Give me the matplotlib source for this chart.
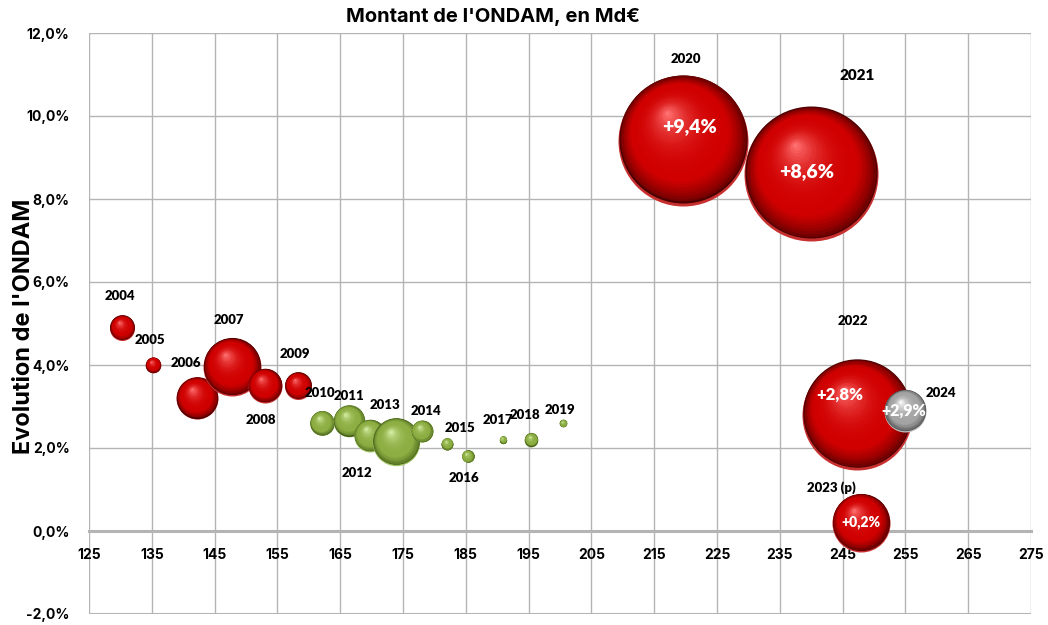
import numpy as np
import matplotlib
matplotlib.use('Agg')
import matplotlib.pyplot as plt
from matplotlib.transforms import offset_copy
from matplotlib.ticker import FuncFormatter, MultipleLocator

plt.rcParams['font.family'] = ['Lato', 'DejaVu Sans']
police_axes = ['Inter', 'DejaVu Sans']

# Données
annees = ['2004', '2005', '2006', '2007', '2008', '2009', '2010', '2011', '2012', '2013',
          '2014', '2015', '2016', '2017', '2018', '2019', '2020', '2021', '2022',
          '2023 (p)', '2024']
montant = [130.3, 135.2, 142.2, 147.8, 153.0, 158.3, 162.1, 166.4, 169.7, 173.9,
           178.0, 182.0, 185.3, 190.9, 195.4, 200.5, 219.6, 240.0, 247.3, 247.9, 255.0]
evolution = [4.9, 4.0, 3.2, 3.95, 3.5, 3.5, 2.6, 2.65, 2.3, 2.15,
             2.4, 2.1, 1.8, 2.2, 2.2, 2.6, 9.4, 8.6, 2.8, 0.2, 2.9]
taille = [12.5, 7.8, 21, 29, 17, 13.5, 12.3, 15.8, 16, 23.7,
          11, 6, 6.3, 3.7, 6.8, 3.8, 65, 67, 55, 29, 21]
groupe = ['r'] * 6 + ['v'] * 10 + ['r'] * 4 + ['g']
etiquettes_val = {'2020': '+9,4%', '2021': '+8,6%', '2022': '+2,8%',
                  '2023 (p)': '+0,2%', '2024': '+2,9%'}
x_ticks = list(range(125, 276, 10))

# placement des étiquettes (pixels par rapport au centre)
pos_annee = [(-2, 32), (-3, 25), (-11, 35), (-3, 47), (-4, -34), (-3, 32), (-2, 30),
             (0, 25), (-13, -37), (-11, 37), (4, 20), (13, 16), (-4, -22), (-5, 20),
             (-6, 25), (-3, 13), (3, 82), (46, 99), (-4, 94), (-29, 35), (35, 18)]
pos_val = {'2020': ((6, 14), 14), '2021': ((-5, 3), 14), '2022': ((-17, 20), 12),
           '2023 (p)': ((0, 1), 10), '2024': ((-2, 0), 11.5)}

palettes = {
    'r': ('#4a0000', '#d00000', '#ff7070', '#c83030'),
    'v': ('#445f18', '#8cae42', '#d8f0a8', '#a4c464'),
    'g': ('#484848', '#a4a4a4', '#ffffff', '#c0c0c0'),
}

fig = plt.figure(figsize=(10.48, 6.25), dpi=100)
ax = fig.add_axes([0.0849, 0.0176, 0.8989, 0.9296])
ax.set_xlim(125, 275)
ax.set_ylim(-2, 12)


def mix(c1, c2, t):
    a = np.array(matplotlib.colors.to_rgb(c1))
    b = np.array(matplotlib.colors.to_rgb(c2))
    return tuple(a + (b - a) * t)


def sphere(x, y, r, pal, z, n=32):
    dark, mid, light, rim = pal
    pts = 0.72
    # reflet clair en bas
    ax.scatter([x], [y], s=(2 * r * pts) ** 2, color=rim, lw=0, zorder=z)
    for k in range(n):
        f = 1 - k / n
        t = k / (n - 1)
        if t < 0.25:
            c = mix(dark, mid, (t / 0.25) ** 0.6)
        else:
            c = mix(mid, light, ((t - 0.25) / 0.75) ** 2.5)
        dx = -0.25 * r * (1 - f)
        dy = 0.42 * r * (1 - f) + 0.025 * r
        tr = offset_copy(ax.transData, fig=fig, x=dx, y=dy, units='dots')
        rr = r * f * (0.985 if k == 0 else 1)
        ax.scatter([x], [y], s=(2 * rr * pts) ** 2, color=c, lw=0, zorder=z, transform=tr)


for i, an in enumerate(annees):
    sphere(montant[i], evolution[i], taille[i], palettes[groupe[i]], 3 + i * 0.01)
    fs = 11 if an == '2021' else 9.5
    ax.annotate(an, (montant[i], evolution[i]), xytext=pos_annee[i],
                textcoords='offset pixels', ha='center', va='center',
                fontsize=fs, fontweight='heavy', color='black', zorder=10)
    if an in etiquettes_val:
        off, fsv = pos_val[an]
        ax.annotate(etiquettes_val[an], (montant[i], evolution[i]), xytext=off,
                    textcoords='offset pixels', ha='center', va='center',
                    fontsize=fsv, fontweight='heavy', color='white', zorder=10)

# axes et grille
ax.set_xticks(x_ticks)
ax.yaxis.set_major_locator(MultipleLocator(2))
ax.grid(True, color='#b4b4b4', lw=1)
ax.set_axisbelow(True)
for s in ['top', 'right', 'left']:
    ax.spines[s].set_visible(False)
ax.spines['bottom'].set_position(('data', 0))
ax.spines['bottom'].set_color('#b4b4b4')
ax.spines['bottom'].set_linewidth(2.2)
ax.axhline(-2, color='#b4b4b4', lw=2.2, zorder=1)
ax.tick_params(axis='both', length=0, labelsize=10)
ax.tick_params(axis='x', pad=12)
ax.tick_params(axis='y', pad=14)
for lab in ax.get_xticklabels() + ax.get_yticklabels():
    lab.set_fontweight('bold')
    lab.set_family(police_axes)
ax.yaxis.set_major_formatter(FuncFormatter(lambda v, p: f'{v:.1f}%'.replace('.', ',')))

fig.text(0.47, 0.972, "Montant de l'ONDAM, en Md€", ha='center', va='center',
         fontsize=14.5, fontweight='bold', family=police_axes)
fig.text(0.023, 0.477, "Evolution de l'ONDAM", rotation=90, ha='center', va='center',
         fontsize=17, fontweight='bold', family=police_axes)

fig.savefig('out.png', dpi=100, facecolor='white')
